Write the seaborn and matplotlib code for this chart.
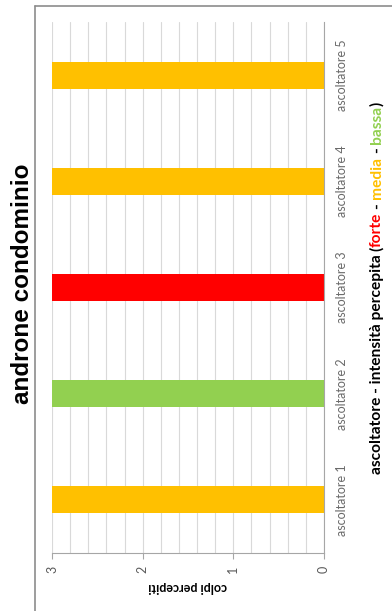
import matplotlib
matplotlib.use("Agg")
import matplotlib.pyplot as plt
import seaborn as sns
import pandas as pd
from matplotlib.ticker import MultipleLocator
from matplotlib.lines import Line2D

# ---- data ----
categories = ["ascoltatore 1", "ascoltatore 2", "ascoltatore 3", "ascoltatore 4", "ascoltatore 5"]
values = [3, 3, 3, 3, 3]
bar_colors = ["#FFC000", "#92D050", "#FF0000", "#FFC000", "#FFC000"]
value_ticks = [0, 1, 2, 3]
value_tick_labels = ["0", "1", "2", "3"]
title = "androne condominio"
value_label = "colpi percepiti"
xlabel_parts = [
    ("ascoltatore - intensità percepita", "#000000"),
    (" ", None),
    ("(", "#000000"),
    ("forte", "#FF0000"),
    (" ", None),
    ("-", "#000000"),
    (" ", None),
    ("media", "#FFC000"),
    (" ", None),
    ("-", "#000000"),
    (" ", None),
    ("bassa", "#92D050"),
    (")", "#000000"),
]

sns.set_theme(style="white")
plt.rcParams['font.family'] = ['Lato', 'DejaVu Sans']

W, H = 392, 611
fig = plt.figure(figsize=(W / 100, H / 100), dpi=100)
fig.patch.set_facecolor("white")

ax = fig.add_axes([52 / W, 1 - 553 / H, 272 / W, 531 / H])
df = pd.DataFrame({"cat": categories, "val": values})
sns.barplot(data=df, x="val", y="cat", hue="cat", palette=bar_colors, orient="h",
            width=0.254, legend=False, ax=ax, saturation=1, linewidth=0)

ax.set_ylim(-0.5, 4.5)
ax.set_xlim(3, 0)
ax.set_xlabel("")
ax.set_ylabel("")

ax.xaxis.set_minor_locator(MultipleLocator(0.2))
ax.grid(True, axis='x', which='both', color='#D9D9D9', lw=0.8)
ax.grid(False, axis='y')
ax.set_axisbelow(True)

for s in ["left", "top"]:
    ax.spines[s].set_visible(False)
for s in ["right", "bottom"]:
    ax.spines[s].set_visible(True)
    ax.spines[s].set_color("#A6A6A6")
    ax.spines[s].set_linewidth(0.8)

# category labels on the right
ax.yaxis.tick_right()
ax.set_yticks(range(len(categories)))
ax.set_yticklabels(categories, rotation=90, va='center', ha='left')
ax.tick_params(axis='y', length=0, pad=8.5, labelsize=9, labelcolor='#6A6A6A',
               right=True, left=False, labelright=True, labelleft=False)

# value axis
ax.set_xticks(value_ticks)
ax.set_xticklabels(value_tick_labels, rotation=90, ha='center', va='top')
ax.tick_params(axis='x', which='major', bottom=True, length=4, width=0.8, color='#A6A6A6',
               direction='out', pad=5, labelsize=9, labelcolor='#595959')
ax.tick_params(axis='x', which='minor', bottom=False, length=0)

# title (rotated, left side)
fig.text(23 / W, 1 - 284 / H, title, rotation=90, ha='center', va='center',
         fontsize=17.5, fontweight='bold', color='black',
         family=['Liberation Sans', 'DejaVu Sans'])

# value axis label (upside down)
fig.text(188 / W, 1 - 587 / H, value_label, rotation=180, ha='center', va='center',
         fontsize=9, fontweight='bold', color='black')

# frame
fig.add_artist(Line2D([35 / W, 1.0], [1 - 6 / H, 1 - 6 / H], transform=fig.transFigure,
                      color='#8C8C8C', lw=1.2))
fig.add_artist(Line2D([35 / W, 35 / W], [0, 1 - 6 / H], transform=fig.transFigure,
                      color='#8C8C8C', lw=1.2))

# multi-coloured category axis title, rotated
fig.canvas.draw()
r = fig.canvas.get_renderer()
lab_kw = dict(fontsize=11.2, fontweight='bold')


def measure(s):
    t = fig.text(0, 0, s, **lab_kw)
    w = t.get_window_extent(r).width
    t.remove()
    return w


space_w = measure("a a") - measure("aa")
widths = [space_w if c is None else measure(s) for s, c in xlabel_parts]
total = sum(widths)
center_y_px = H - 288
y = center_y_px - total / 2
x_frac = 377 / W
for (s, c), w in zip(xlabel_parts, widths):
    if c is not None:
        fig.text(x_frac, y / H, s, rotation=90, ha='center', va='bottom', color=c, **lab_kw)
    y += w

fig.savefig("out.png", dpi=100, facecolor="white")
